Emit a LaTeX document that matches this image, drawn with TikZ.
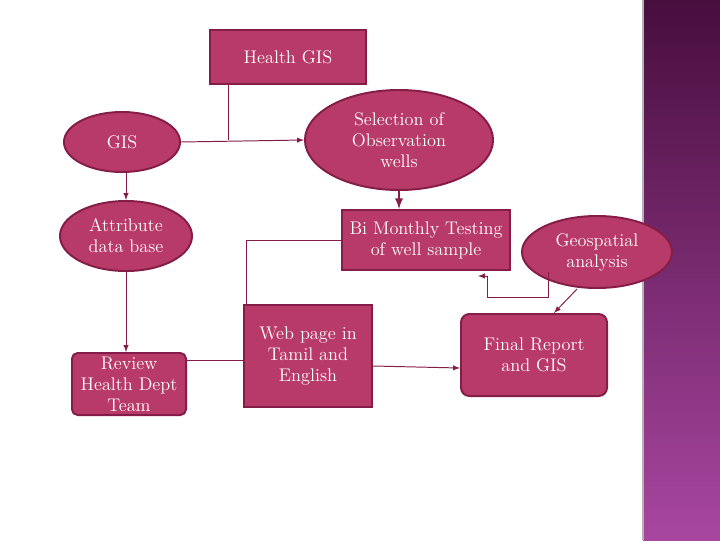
\documentclass[tikz,border=0pt]{standalone}
\usepackage{tikz}
\usetikzlibrary{arrows,shapes.geometric,calc}
\definecolor{hg_fill}{RGB}{184, 58, 104}
\definecolor{hg_line}{RGB}{132, 30, 72}
\definecolor{hg_dark}{RGB}{72, 14, 62}
\definecolor{hg_light}{RGB}{168, 70, 160}
\tikzstyle{bx}=[rectangle,fill=hg_fill,draw=hg_line,line width=1.4pt,
  text=white,align=center,font=\fontsize{13}{15}\selectfont,inner sep=2pt]
\tikzstyle{el}=[ellipse,fill=hg_fill,draw=hg_line,line width=1.4pt,
  text=white,align=center,font=\fontsize{13}{15}\selectfont,inner sep=0pt]
\tikzstyle{ln}=[draw=hg_line,line width=0.7pt]
\tikzstyle{ar}=[ln,-latex]
\begin{document}
\begin{tikzpicture}[x=0.025cm,y=-0.025cm]
            \useasboundingbox (0,0) rectangle (720,540);
            \shade[top color=hg_dark,bottom color=hg_light] (643,0) rectangle (720,540);
            \draw[gray!60,line width=1pt] (643,0) -- (643,540);
            \node [style=bx,minimum width=3.9cm,minimum height=1.35cm] (hgis) at (288, 57) {Health GIS};
            \node [style=el,minimum width=2.9cm,minimum height=1.5cm] (gis) at (122, 142) {GIS};
            \node [style=el,minimum width=4.7cm,minimum height=2.5cm] (sel) at (399, 140) {Selection of\\Observation\\wells};
            \node [style=el,minimum width=3.3cm,minimum height=1.75cm] (attr) at (126, 236) {Attribute\\data base};
            \node [style=bx,minimum width=4.2cm,minimum height=1.5cm] (test) at (426, 240) {Bi Monthly Testing\\of well sample};
            \node [style=el,minimum width=3.75cm,minimum height=1.8cm] (geo) at (597, 252) {Geospatial\\analysis};
            \node [style=bx,minimum width=3.2cm,minimum height=2.55cm] (web) at (308, 356) {Web page in\\Tamil and\\English};
            \node [style=bx,minimum width=2.85cm,minimum height=1.55cm,rounded corners=4pt] (rev) at (129, 384) {Review\\Health Dept\\Team};
            \node [style=bx,minimum width=3.65cm,minimum height=2.05cm,rounded corners=6pt] (fin) at (534, 355) {Final Report\\and GIS};
            \coordinate (j1) at (228, 140);
            \coordinate (j2) at (478, 276);
            \coordinate (g1) at (548, 272);
            \draw [style=ln] (hgis.south -| j1) -- (j1);
            \draw [style=ar] (gis.east) -- (sel.west);
            \draw [style=ar,line width=1.6pt] (sel.south) -- (sel.south |- test.north);
            \draw [style=ar] (gis.south -| attr.north) -- (attr.north);
            \draw [style=ar] (attr.south) -- (rev.north -| attr.south);
            \draw [style=ln] (test.west) -| ($(web.north west)+(3,0)$);
            \draw [style=ln] (web.west |- rev.north east) ++(0,8) -- ($(rev.north east)+(0,8)$);
            \draw [style=ar] (web.east) ++(0,10) -- ($(fin.west)+(0,13)$);
            \draw [style=ar] (geo.south) ++(-20,0) -- ($(fin.north)+(20,0)$);
            \draw [style=ar] (g1) -- (548, 297) -- (487, 297) -- (487, 276) -- (j2);
    \end{tikzpicture}
\end{document}
